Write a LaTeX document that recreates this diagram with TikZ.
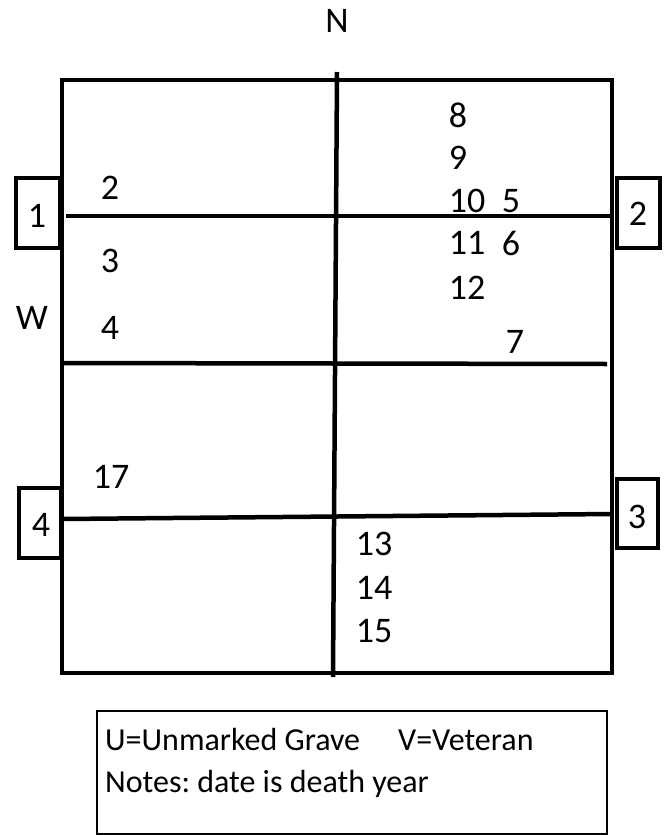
\documentclass[tikz,border=0pt]{standalone}
\usepackage{fontspec}
\setmainfont{Carlito}
\frenchspacing
\begin{document}
\begin{tikzpicture}[x=1pt,y=-1pt,
  thickline/.style={line width=4.5pt},
  lbl/.style={inner sep=0pt, font=\fontsize{36}{42}\selectfont},
  legtext/.style={inner sep=0pt, anchor=base west, font=\fontsize{32}{38}\selectfont}]
\useasboundingbox (0,0) rectangle (670,835);
% gate boxes
\draw[thickline] (16,178) rectangle (60,248);
\draw[thickline] (617,178) rectangle (660,248);
\draw[thickline] (19,488) rectangle (61,558);
\draw[thickline] (617,479) rectangle (658,548);
% main plot
\draw[thickline] (62,80) rectangle (612,673);
\coordinate (vtop) at (337,72);
\coordinate (vbot) at (333,677);
\draw[thickline] (vtop) -- (vbot);
\coordinate (h1a) at (66,216);
\coordinate (h1b) at (612,216);
\draw[thickline] (h1a) -- (h1b);
\coordinate (h2a) at (62,363);
\coordinate (h2b) at (607,364);
\draw[thickline] (h2a) -- (h2b);
\coordinate (h3a) at (62,519);
\coordinate (h3b) at (612,514);
\draw[thickline] (h3a) -- (h3b);
% labels
\node[lbl] (n) at (337,21) {N};
\node[lbl] (w) at (32,318) {W};
\node[lbl] (g1) at (37,216) {1};
\node[lbl] (g2) at (638,214) {2};
\node[lbl] (g4) at (41,525) {4};
\node[lbl] (g3) at (637,517) {3};
\node[lbl] (p2) at (110,188) {2};
\node[lbl] (p3) at (110,261) {3};
\node[lbl] (p4) at (110,328) {4};
\node[lbl] (p8) at (458,115) {8};
\node[lbl] (p9) at (458,158) {9};
\node[lbl] (p10) at (467,201) {10};
\node[lbl] (p5) at (511,201) {5};
\node[lbl] (p11) at (467,243) {11};
\node[lbl] (p6) at (511,243) {6};
\node[lbl] (p12) at (467,288) {12};
\node[lbl] (p7) at (515,342) {7};
\node[lbl] (p17) at (111,477) {17};
\node[lbl] (p13) at (374,544) {13};
\node[lbl] (p14) at (374,588) {14};
\node[lbl] (p15) at (374,631) {15};
% legend
\draw[line width=2pt] (97,711) rectangle (607,834);
\node[legtext] (leg1) at (105,750) {U=Unmarked Grave\hspace{38pt}V=Veteran};
\node[legtext] (leg2) at (105,792) {Notes: date is death year};
\end{tikzpicture}
\end{document}
